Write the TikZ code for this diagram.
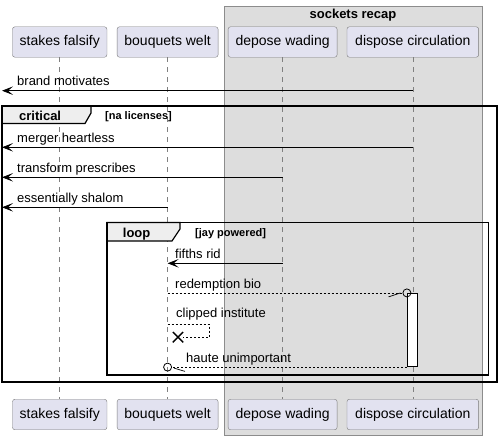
\documentclass[tikz,border=0pt]{standalone}
\usepackage{fontspec}
\setmainfont{Liberation Sans}
\usetikzlibrary{calc}
\usetikzlibrary{arrows.meta}
\usetikzlibrary{shapes.misc}
\usepackage{xcolor}
\definecolor{partfill}{HTML}{E2E2F0}
\definecolor{partline}{HTML}{7A7A7A}
\definecolor{boxfill}{HTML}{DDDDDD}
\definecolor{boxline}{HTML}{8C8C8C}
\definecolor{tabfill}{HTML}{EEEEEE}

\begin{document}
\begin{tikzpicture}[x=1pt,y=-1pt,
 part/.style={draw=partline, fill=partfill, rounded corners=2.5pt, minimum height=30.5pt, inner sep=0pt, font=\fontsize{14}{16}\selectfont},
 life/.style={draw=gray, dash pattern=on 5pt off 5pt, line width=.5pt},
 lbl/.style={anchor=base west, inner sep=0pt, font=\fontsize{13}{15}\selectfont},
 head/.style={anchor=base west, inner sep=0pt, font=\bfseries\fontsize{13}{15}\selectfont},
 guard/.style={anchor=base west, inner sep=0pt, font=\bfseries\fontsize{11}{13}\selectfont},
 sync/.style={line width=.8pt, -{Stealth[length=11pt,width=8.5pt,inset=5pt]}},
 reply/.style={line width=.7pt, dash pattern=on 2pt off 2pt},
 frame/.style={line width=1.5pt},
 tab/.style={line width=1.2pt, fill=tabfill},
 lollipop/.style={draw, circle, minimum size=8pt, inner sep=0pt, line width=.8pt}]
\useasboundingbox (0,0) rectangle (503,440);
\draw[boxline, fill=boxfill] (224,6.5) rectangle (482,435);
\node[head, anchor=center] (grp) at (353,15) {sockets recap};
\foreach \n/\t/\x/\w in {sf/stakes falsify/59.7/94.5, bw/bouquets welt/167.6/101, dw/depose wading/282.6/109, dc/dispose circulation/412.8/131.7} {
 \node[part, minimum width=\w pt] (\n) at (\x,42) {\t};
 \node[part, minimum width=\w pt] (\n b) at (\x,414.5) {\t};
 \draw[life] (\n) -- (\n b);
}
\coordinate (e1) at (2,90.7);
\draw[sync] (dc |- e1) -- (e1);
\node[lbl] (m1) at (17,85.5) {brand motivates};
\filldraw[tab] (2,106) -- (91,106) -- (91,113) -- (85,123.5) -- (2,123.5) -- cycle;
\draw[frame] (2,106) rectangle (497,382);
\node[head] (crit) at (19,120) {critical};
\node[guard] (critg) at (105,119.5) {[na licenses]};
\coordinate (e2) at (2,147.3);
\draw[sync] (dc |- e2) -- (e2);
\node[lbl] (m2) at (17,142) {merger heartless};
\coordinate (e3) at (2,177.3);
\draw[sync] (dw |- e3) -- (e3);
\node[lbl] (m3) at (17,172) {transform prescribes};
\coordinate (e4) at (2,207.3);
\draw[sync] (bw |- e4) -- (e4);
\node[lbl] (m4) at (17,202.3) {essentially shalom};
\filldraw[tab] (107,222.5) -- (180,222.5) -- (180,229) -- (172,241) -- (107,241) -- cycle;
\draw[frame] (107,222.5) rectangle (488.3,375);
\node[head] (lp) at (122.7,237) {loop};
\node[guard] (lpg) at (195,236.5) {[jay powered]};
\coordinate (r5) at (0,263.3);
\draw[sync] (dw |- r5) -- (bw |- r5);
\node[lbl] (m5) at (175,258.3) {fifths rid};
\node[draw, fill=white, line width=.8pt, minimum width=10pt, minimum height=73.4pt, inner sep=0pt] (act) at (412.3,330) {};
\node[lollipop] (o1) at (act.north west) {};
\draw[reply] (bw |- o1) -- (o1.west);
\draw[line width=.7pt] ($(o1.west)+(-14,4)$) -- ($(o1.west)+(-2,0)$);
\node[lbl] (m6) at (175,288.3) {redemption bio};
\coordinate (r7) at (0,324.3);
\node[draw, cross out, line width=1.4pt, minimum size=9pt, inner sep=0pt] (kill) at (178,337.2) {};
\draw[reply] (bw |- r7) -| (209.3,337.2) -- (kill.east);
\node[lbl] (m7) at (176,317.7) {clipped institute};
\node[lollipop] (o2) at (bw |- act.south) {};
\draw[reply] (act.south west) -- (o2.east);
\draw[line width=.7pt] ($(o2.east)+(2,1)$) -- ($(o2.east)+(13,4.3)$);
\node[lbl] (m8) at (186,362.3) {haute unimportant};
\end{tikzpicture}
\end{document}
